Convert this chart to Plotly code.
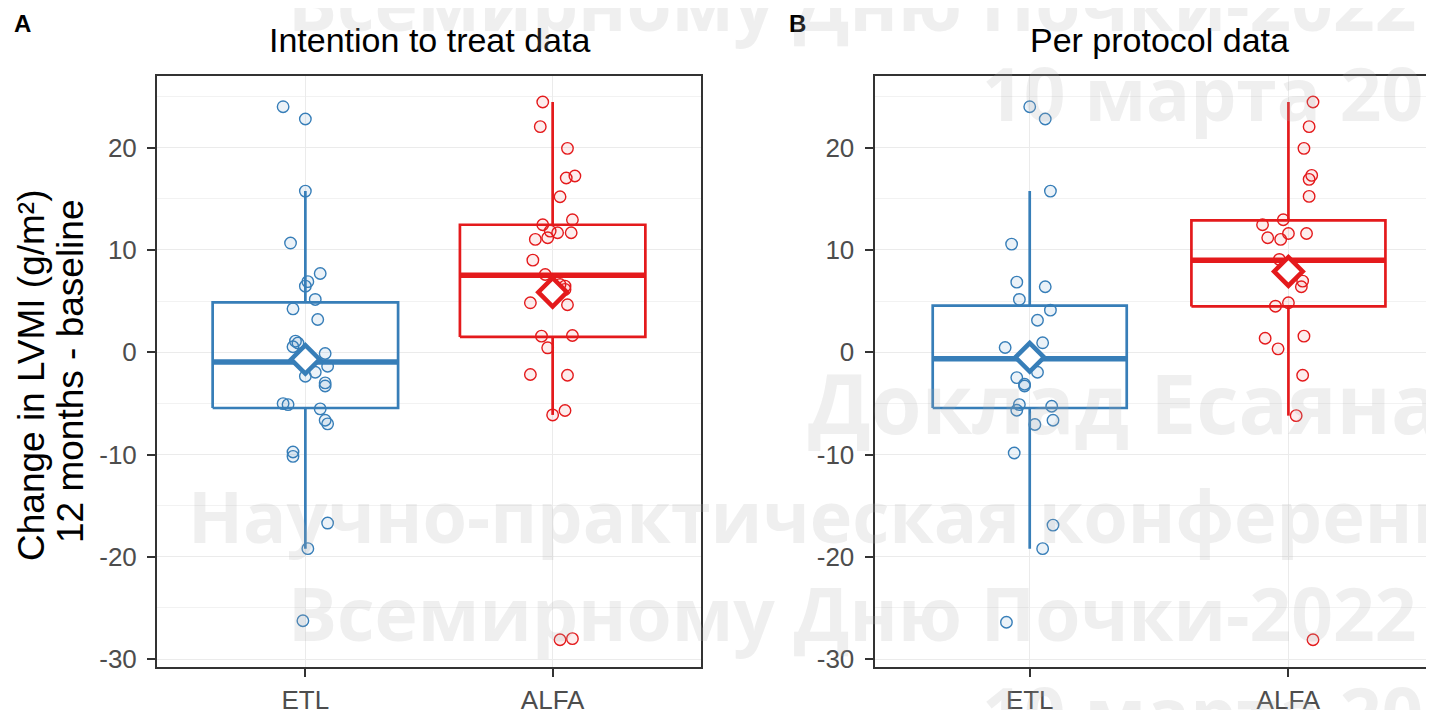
import plotly.graph_objects as go

# ---------------- data ----------------
categories = ["ETL", "ALFA"]
panel_titles = ["Intention to treat data", "Per protocol data"]
panel_letters = ["A", "B"]
y_title_lines = ["Change in LVMI (g/m²)", "12 months - baseline"]
y_ticks = [-30, -20, -10, 0, 10, 20]
y_tick_labels = ["-30", "-20", "-10", "0", "10", "20"]

itt_etl = [24.0, 22.8, 15.75, 10.67, 7.7, 6.9, 6.46, 5.16, 4.24, 3.2, 1.08, 0.9, 0.53,
           -0.13, -1.37, -1.96, -2.35, -3.0, -3.3, -5.02, -5.12, -5.54, -6.65, -7.0,
           -9.75, -10.18, -16.7, -19.2, -26.25]
itt_etl_jit = [-0.09, 0.0, 0.0, -0.06, 0.06, 0.01, 0.0, 0.04, -0.05, 0.05, -0.04, -0.03, -0.05,
               0.08, 0.09, 0.04, 0.0, 0.08, 0.08, -0.09, -0.07, 0.06, 0.08, 0.09,
               -0.05, -0.05, 0.09, 0.01, -0.01]

itt_alfa = [24.46, 22.05, 19.93, 17.22, 17.03, 15.2, 12.95, 12.46, 11.84, 11.68, 11.68,
            11.03, 11.19, 9.0, 7.6, 6.62, 6.46, 6.14, 4.83, 4.64, 1.57, 1.63, 0.43,
            -2.18, -2.25, -5.7, -6.13, -28.1, -28.0]
itt_alfa_jit = [-0.04, -0.05, 0.06, 0.09, 0.055, 0.03, 0.08, -0.04, -0.01, 0.02, 0.075,
                -0.07, -0.02, -0.08, -0.03, 0.03, 0.05, 0.05, -0.09, 0.06, -0.045, 0.08, -0.02,
                -0.09, 0.06, 0.05, 0.0, 0.03, 0.08]

pp_etl = [24.0, 22.8, 15.75, 10.57, 6.85, 6.4, 5.16, 4.11, 3.13, 0.92, 0.46, -0.22,
          -1.96, -2.48, -3.13, -3.3, -5.12, -5.67, -5.28, -6.65, -7.07, -9.85,
          -16.9, -19.2, -26.4]
pp_etl_jit = [0.0, 0.06, 0.08, -0.07, -0.05, 0.06, -0.04, 0.08, 0.03, 0.05, -0.095, 0.01,
              0.03, -0.05, -0.02, -0.02, -0.04, -0.05, 0.085, 0.09, 0.02, -0.06,
              0.09, 0.05, -0.09]

pp_alfa = [24.46, 22.05, 19.93, 17.29, 16.9, 15.23, 12.95, 12.46, 11.19, 11.03, 11.6,
           11.6, 9.07, 7.6, 6.95, 6.4, 4.5, 4.83, 1.37, 1.57, 0.33, -2.25, -6.2, -28.1]
pp_alfa_jit = [0.095, 0.08, 0.06, 0.09, 0.08, 0.08, -0.02, -0.10, -0.08, -0.03, 0.0,
               0.07, -0.035, -0.01, 0.055, 0.05, -0.05, 0.0, -0.09, 0.06, -0.04, 0.055, 0.03, 0.095]

# box statistics per panel, order [ETL, ALFA]
itt_q1 = [-5.45, 1.5]
itt_median = [-0.96, 7.53]
itt_q3 = [4.87, 12.46]
itt_lower = [-19.2, -6.13]
itt_upper = [15.75, 24.46]
itt_mean = [-0.7, 5.87]

pp_q1 = [-5.45, 4.48]
pp_median = [-0.65, 8.98]
pp_q3 = [4.55, 12.88]
pp_lower = [-19.2, -6.2]
pp_upper = [15.75, 24.46]
pp_mean = [-0.5, 7.9]

watermark_lines = ["Всемирному Дню Почки-2022", "10 марта 2022", "Доклад Есаяна",
                   "Научно-практическая конференция", "Всемирному Дню Почки-2022", "10 марта 2022"]

# ---------------- style ----------------
# the page body has an 8 px margin: the figure sits at (8, 8)
OFF = 8
W, H = 1434 - OFF, 710 - OFF
colors = ["#377EB8", "#E41A1C"]
fills = ["rgba(55,126,184,0.10)", "rgba(228,26,28,0.08)"]
BOXW = 0.75
FONT = "Liberation Sans, Arial, sans-serif"


def px(x):
    return (x - OFF) / W


def py(y):
    return 1 - (y - OFF) / H


fig = go.Figure()

panels = [
    dict(pts=[(itt_etl, itt_etl_jit), (itt_alfa, itt_alfa_jit)],
         q1=itt_q1, med=itt_median, q3=itt_q3, lo=itt_lower, hi=itt_upper, mean=itt_mean,
         xa="x", ya="y"),
    dict(pts=[(pp_etl, pp_etl_jit), (pp_alfa, pp_alfa_jit)],
         q1=pp_q1, med=pp_median, q3=pp_q3, lo=pp_lower, hi=pp_upper, mean=pp_mean,
         xa="x2", ya="y2"),
]

for p in panels:
    for i, cat in enumerate(categories):
        c = colors[i]
        xc = i + 1
        L, R = xc - BOXW / 2, xc + BOXW / 2
        # whiskers
        fig.add_trace(go.Scatter(x=[xc, xc, None, xc, xc],
                                 y=[p["q3"][i], p["hi"][i], None, p["q1"][i], p["lo"][i]],
                                 mode="lines", line=dict(color=c, width=2.7),
                                 xaxis=p["xa"], yaxis=p["ya"], showlegend=False, hoverinfo="skip"))
        # box
        fig.add_trace(go.Scatter(x=[L, R, R, L, L],
                                 y=[p["q1"][i], p["q1"][i], p["q3"][i], p["q3"][i], p["q1"][i]],
                                 mode="lines", line=dict(color=c, width=2.7),
                                 xaxis=p["xa"], yaxis=p["ya"], showlegend=False, hoverinfo="skip"))
        # median
        fig.add_trace(go.Scatter(x=[L, R], y=[p["med"][i], p["med"][i]],
                                 mode="lines", line=dict(color=c, width=5.5),
                                 xaxis=p["xa"], yaxis=p["ya"], showlegend=False, hoverinfo="skip"))
        # jittered points
        vals, jit = p["pts"][i]
        fig.add_trace(go.Scatter(x=[xc + j for j in jit], y=vals, mode="markers",
                                 marker=dict(symbol="circle", size=11.5, color=fills[i],
                                             line=dict(color=c, width=1.4)),
                                 xaxis=p["xa"], yaxis=p["ya"], showlegend=False, name=cat))
        # mean diamond
        fig.add_trace(go.Scatter(x=[xc], y=[p["mean"][i]], mode="markers",
                                 marker=dict(symbol="diamond", size=22, color="white",
                                             line=dict(color=c, width=4.5)),
                                 xaxis=p["xa"], yaxis=p["ya"], showlegend=False, name=cat + " mean"))

# ---------------- axes ----------------
yA = [py(666.5), py(76)]
axis_common = dict(showgrid=True, gridcolor="#ebebeb", gridwidth=1.3, zeroline=False,
                   ticks="outside", ticklen=8, tickwidth=1.5, tickcolor="#333333",
                   tickfont=dict(family=FONT, size=26, color="#4d4d4d"),
                   showline=True, linecolor="#333333", linewidth=2, automargin=False)
minor_grid = dict(tickvals=[-25, -15, -5, 5, 15, 25], showgrid=True,
                  gridcolor="#f2f2f2", gridwidth=1, ticks="")

x2_left = 874.5
fig.update_layout(
    xaxis=dict(domain=[px(157), px(701)], range=[0.4, 2.6], tickvals=[1, 2], ticktext=categories,
               mirror=True, anchor="y", ticklabelstandoff=1, **axis_common),
    yaxis=dict(domain=yA, range=[-30.72, 27.0], tickvals=y_ticks, ticktext=y_tick_labels,
               mirror=True, anchor="x", ticklabelstandoff=5, minor=minor_grid, **axis_common),
    xaxis2=dict(domain=[px(x2_left), 1.0], range=[0.4, 0.4 + (1434 - x2_left) / 258.7],
                tickvals=[1, 2], ticktext=categories, mirror=True, anchor="y2",
                ticklabelstandoff=1, **axis_common),
    yaxis2=dict(domain=yA, range=[-30.72, 27.0], tickvals=y_ticks, ticktext=y_tick_labels,
                mirror=False, anchor="x2", ticklabelstandoff=5, minor=minor_grid, **axis_common),
)

# ---------------- text ----------------
def note(x, y, text, **kw):
    d = dict(x=px(x), y=py(y), xref="paper", yref="paper", text=text, showarrow=False,
             xanchor="center", yanchor="middle")
    d.update(kw)
    return d


annots = [
    note(429, 40, panel_titles[0], font=dict(family=FONT, size=34, color="black")),
    note(1159, 40, panel_titles[1], font=dict(family=FONT, size=34, color="black")),
    note(22, 24, "<b>" + panel_letters[0] + "</b>", font=dict(family=FONT, size=24, color="black")),
    note(797, 24, "<b>" + panel_letters[1] + "</b>", font=dict(family=FONT, size=24, color="black")),
    note(32, 375, y_title_lines[0], textangle=-90, font=dict(family=FONT, size=37, color="black")),
    note(70, 372, y_title_lines[1], textangle=-90, font=dict(family=FONT, size=37, color="black")),
]

# watermark (faint)
wm_pos = [(286, 2, 73), (980, 92, 73), (806, 402, 82), (186, 515, 72), (286, 612, 73), (980, 712, 73)]
for txt, (wx, wy, ws) in zip(watermark_lines, wm_pos):
    annots.append(note(wx, wy, "<b>" + txt + "</b>", xanchor="left",
                       font=dict(family="Open Sans, sans-serif", size=ws,
                                 color="rgba(175,175,175,0.2)")))

fig.update_layout(annotations=annots, width=W, height=H,
                  margin=dict(l=0, r=0, t=0, b=0, pad=0, autoexpand=False),
                  paper_bgcolor="white", plot_bgcolor="white", showlegend=False)

fig.write_html("out.html")
